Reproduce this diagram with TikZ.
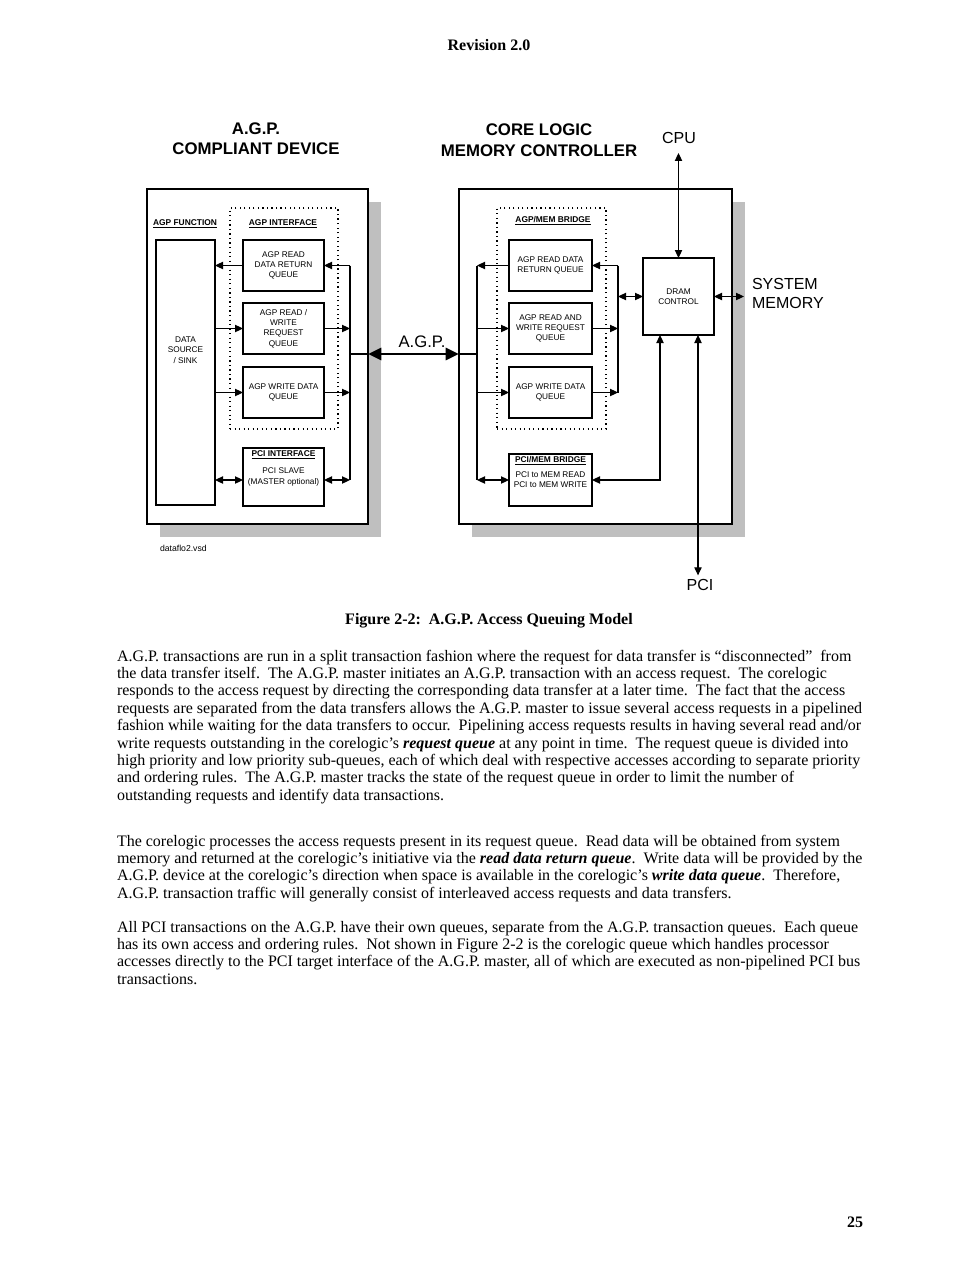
\documentclass[tikz,border=0pt]{standalone}
\usepackage{fontspec}
\setmainfont{Liberation Serif}
\newfontfamily\arial{Liberation Sans}
\usetikzlibrary{arrows.meta,calc}
\begin{document}
\begin{tikzpicture}[x=0.75pt,y=-0.75pt,
  every node/.style={inner sep=0pt, outer sep=0pt},
  tinytxt/.style={font=\arial\fontsize{6.2}{7.7}\selectfont, align=center},
  tinybold/.style={font=\arial\bfseries\fontsize{6.3}{7.7}\selectfont, align=center},
  qbox/.style={draw, line width=0.9pt, minimum width=60.75pt, minimum height=38.25pt, tinytxt},
  rqbox/.style={qbox, minimum width=62.25pt},
  outerbox/.style={draw, line width=1.1pt, fill=white},
  shadowbox/.style={fill=black!25},
  dotbox/.style={draw, line width=0.9pt, dash pattern=on 0.9pt off 2.5pt},
  conn/.style={line width=0.8pt},
  onearrow/.style={conn, -{Triangle[length=6pt,width=5.5pt]}},
  twoarrow/.style={conn, {Triangle[length=6pt,width=5.5pt]}-{Triangle[length=6pt,width=5.5pt]}},
  bigarrow/.style={line width=2.2pt, {Triangle[length=10pt,width=9pt]}-{Triangle[length=10pt,width=9pt]}},
  bodyline/.style={anchor=base west, font=\fontsize{12}{13}\selectfont},
  bigsans/.style={font=\arial\fontsize{12}{14.25}\selectfont},
  titlefont/.style={font=\arial\bfseries\fontsize{12.6}{15}\selectfont, align=center},
  serifbold/.style={font=\bfseries\fontsize{12}{14}\selectfont}
]
\fill[white] (0,0) rectangle (979,1267);
\useasboundingbox (0,0) rectangle (979,1267);

% header
\node[serifbold] (hdr) at (489,45) {Revision 2.0};

% titles
\node[titlefont] (ltitle) at (256,138.5) {A.G.P.\\COMPLIANT DEVICE};
\node[titlefont, font=\arial\bfseries\fontsize{12.6}{15.75}\selectfont] (rtitle) at (539,140) {CORE LOGIC\\MEMORY CONTROLLER};

% shadows and outer boxes
\node[shadowbox, minimum width=165.75pt, minimum height=251.25pt] (lsh) at (270.5,369.5) {};
\node[shadowbox, minimum width=204.75pt, minimum height=251.25pt] (rsh) at (608.5,369.5) {};
\node[outerbox, minimum width=165.75pt, minimum height=251.25pt] (lout) at (257.5,356.5) {};
\node[outerbox, minimum width=204.75pt, minimum height=251.25pt] (rout) at (595.5,356.5) {};

% left device
\node[tinybold] (lfun) at (185,224) {\underline{AGP FUNCTION}};
\node[dotbox, minimum width=81pt, minimum height=165.75pt] (lif) at (284,318.5) {};
\node[tinybold] (liflbl) at (283,224) {\underline{AGP INTERFACE}};
\node[draw, line width=0.9pt, minimum width=44.25pt, minimum height=198.75pt] (ds) at (185.5,372.5) {};
\node[tinytxt] (dstext) at (185.5,350) {DATA\\SOURCE\\/ SINK};
\node[qbox] (lq1) at (283.5,265.5) {AGP READ\\DATA RETURN\\QUEUE};
\node[qbox] (lq2) at (283.5,328.5) {AGP READ /\\WRITE\\REQUEST\\QUEUE};
\node[qbox] (lq3) at (283.5,392.5) {AGP WRITE DATA\\QUEUE};
\node[qbox, minimum height=43.5pt] (lpci) at (283.5,477) {};
\node[tinybold] (lpcit) at (283.5,455) {\underline{PCI INTERFACE}};
\node[tinytxt] (lpcix) at (283.5,477) {PCI SLAVE\\(MASTER optional)};

% right core logic
\node[dotbox, minimum width=81.75pt, minimum height=165.75pt] (rif) at (551.5,318.5) {};
\node[tinybold] (riflbl) at (553,221) {\underline{AGP/MEM BRIDGE}};
\node[rqbox] (rq1) at (550.5,265.5) {AGP READ DATA\\RETURN QUEUE};
\node[rqbox] (rq2) at (550.5,328.5) {AGP READ AND\\WRITE REQUEST\\QUEUE};
\node[rqbox] (rq3) at (550.5,392.5) {AGP WRITE DATA\\QUEUE};
\node[rqbox, minimum height=39pt] (rpci) at (550.5,480) {};
\node[tinybold] (rpcit) at (550.5,461) {\underline{PCI/MEM BRIDGE}};
\node[tinytxt] (rpcix) at (550.5,480) {PCI to MEM READ\\PCI to MEM WRITE};
\node[qbox, minimum width=53.25pt, minimum height=57.75pt] (dram) at (678.5,296.5) {DRAM\\CONTROL};

% outside labels
\node[bigsans] (cpu) at (679,138) {CPU};
\node[bigsans, align=left, anchor=west] (sysmem) at (752,293.5) {SYSTEM\\MEMORY};
\node[bigsans] (pci) at (700,585) {PCI};
\node[font=\arial\fontsize{12.5}{15}\selectfont] (agplbl) at (422,342) {A.G.P.};
\node[font=\arial\fontsize{6.5}{7}\selectfont, anchor=west] (fname) at (160,548) {dataflo2.vsd};

% coordinates
\coordinate (lbx) at (350,265.5);
\coordinate (lbb) at (350,480);
\coordinate (agpy) at (350,354);
\coordinate (rbx) at (477,265.5);
\coordinate (rbb) at (477,480);
\coordinate (r2t) at (618,265.5);
\coordinate (r2b) at (618,392.5);
\coordinate (d1) at (660,0);
\coordinate (d2) at (698,0);
\coordinate (cpuend) at ([yshift=-7pt]cpu.south);
\coordinate (smtip) at ([xshift=-6pt]sysmem.west);
\coordinate (pcitip) at ([yshift=3pt]pci.north);

% left connectors
\draw[onearrow] (lq1.west) -- (lq1.west -| ds.east);
\draw[onearrow] (lq2.west -| ds.east) -- (lq2.west);
\draw[onearrow] (lq3.west -| ds.east) -- (lq3.west);
\draw[twoarrow] (lbb -| ds.east) -- (lbb -| lpci.west);
\draw[conn] (lbx) -- (lbb);
\draw[onearrow] (lbx) -- (lq1.east);
\draw[onearrow] (lq2.east) -- (lq2.east -| lbx);
\draw[onearrow] (lq3.east) -- (lq3.east -| lbx);
\draw[twoarrow] (lbb -| lpci.east) -- (lbb);

% AGP link
\draw[conn] (agpy) -- (agpy -| lout.east);
\draw[bigarrow] (agpy -| lout.east) -- (agpy -| rout.west);
\draw[conn] (agpy -| rout.west) -- (agpy -| rbx);

% right connectors
\draw[conn] (rbx) -- (rbb);
\draw[onearrow] (rq1.west) -- (rq1.west -| rbx);
\draw[onearrow] (rq2.west -| rbx) -- (rq2.west);
\draw[onearrow] (rq3.west -| rbx) -- (rq3.west);
\draw[twoarrow] (rbb) -- (rbb -| rpci.west);
\draw[conn] (r2t) -- (r2b);
\draw[onearrow] (r2t) -- (rq1.east);
\draw[onearrow] (rq2.east) -- (rq2.east -| r2t);
\draw[onearrow] (rq3.east) -- (rq3.east -| r2t);
\draw[twoarrow] (dram.west -| r2t) -- (dram.west);
\draw[twoarrow] (dram.north) -- (dram.north |- cpuend);
\draw[twoarrow] (dram.east) -- (dram.east -| smtip);
\draw[twoarrow] (rpci.east) -| (dram.south -| d1);
\draw[twoarrow] (dram.south -| d2) -- (pcitip -| d2);

% caption
\node[serifbold] (cap) at (489,621) {Figure 2-2:\ \ A.G.P. Access Queuing Model};

% body text
\node[bodyline] (p1a) at (117,661) {A.G.P. transactions are run in a split transaction fashion where the request for data transfer is “disconnected”\ \ from};
\node[bodyline] (p1b) at (117,678.4) {the data transfer itself.\ \ The A.G.P. master initiates an A.G.P. transaction with an access request.\ \ The corelogic};
\node[bodyline] (p1c) at (117,695.8) {responds to the access request by directing the corresponding data transfer at a later time.\ \ The fact that the access};
\node[bodyline] (p1d) at (117,713.2) {requests are separated from the data transfers allows the A.G.P. master to issue several access requests in a pipelined};
\node[bodyline] (p1e) at (117,730.6) {fashion while waiting for the data transfers to occur.\ \ Pipelining access requests results in having several read and/or};
\node[bodyline] (p1f) at (117,748) {write requests outstanding in the corelogic’s \textbf{\textit{request queue}} at any point in time.\ \ The request queue is divided into};
\node[bodyline] (p1g) at (117,765.4) {high priority and low priority sub-queues, each of which deal with respective accesses according to separate priority};
\node[bodyline] (p1h) at (117,782.8) {and ordering rules.\ \ The A.G.P. master tracks the state of the request queue in order to limit the number of};
\node[bodyline] (p1i) at (117,800.2) {outstanding requests and identify data transactions.};

\node[bodyline] (p2a) at (117,846) {The corelogic processes the access requests present in its request queue.\ \ Read data will be obtained from system};
\node[bodyline] (p2b) at (117,863.4) {memory and returned at the corelogic’s initiative via the \textbf{\textit{read data return queue}}.\ \ Write data will be provided by the};
\node[bodyline] (p2c) at (117,880.8) {A.G.P. device at the corelogic’s direction when space is available in the corelogic’s \textbf{\textit{write data queue}}.\ \ Therefore,};
\node[bodyline] (p2d) at (117,898.2) {A.G.P. transaction traffic will generally consist of interleaved access requests and data transfers.};

\node[bodyline] (p3a) at (117,932) {All PCI transactions on the A.G.P. have their own queues, separate from the A.G.P. transaction queues.\ \ Each queue};
\node[bodyline] (p3b) at (117,949.4) {has its own access and ordering rules.\ \ Not shown in Figure 2-2 is the corelogic queue which handles processor};
\node[bodyline] (p3c) at (117,966.8) {accesses directly to the PCI target interface of the A.G.P. master, all of which are executed as non-pipelined PCI bus};
\node[bodyline] (p3d) at (117,984.2) {transactions.};

% page number
\node[serifbold] (pg) at (855,1222) {25};
\end{tikzpicture}
\end{document}
